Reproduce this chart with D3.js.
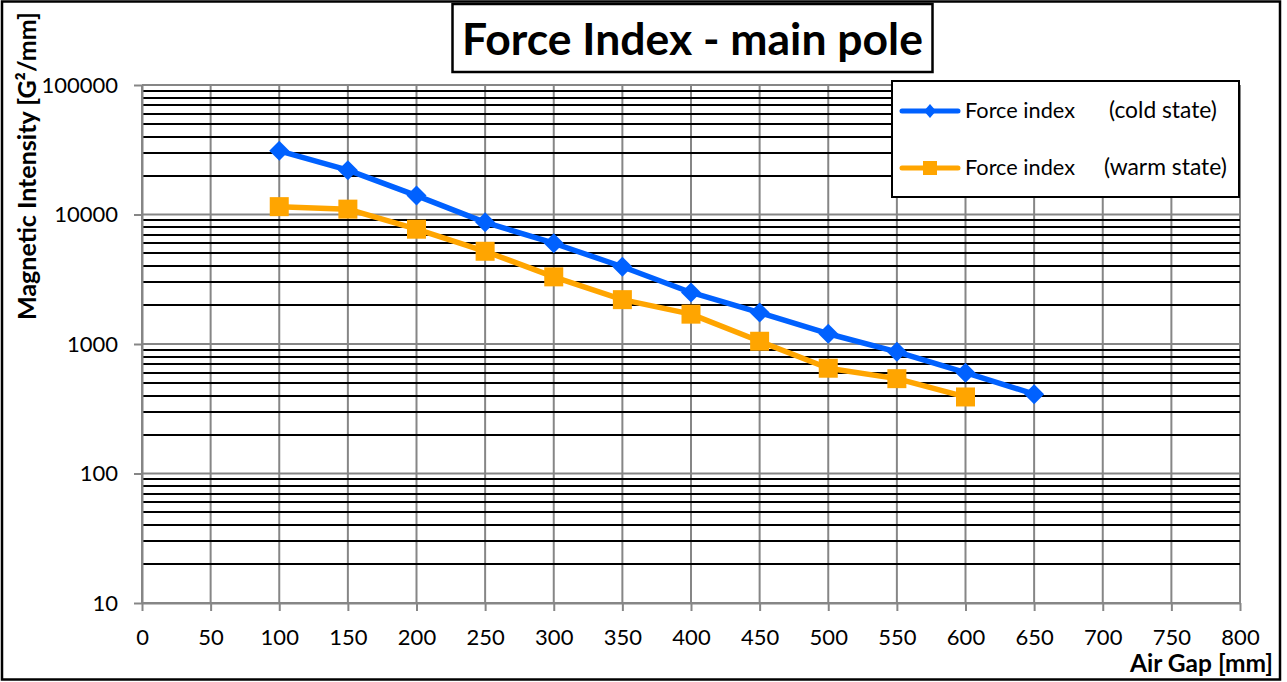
<!DOCTYPE html>
<html><head><meta charset="utf-8">
<script src="https://cdn.jsdelivr.net/npm/d3@7"></script>
<style>body{margin:0;background:#fff} svg{display:block} text{font-family:Lato,"Open Sans",sans-serif;fill:#000}</style>
</head><body><svg id="c" width="1287" height="682"></svg>
<script>
// ---- data ----
const coldGap = [100,150,200,250,300,350,400,450,500,550,600,650];
const coldState = [31000,22000,14000,8700,6000,3950,2500,1750,1200,870,600,410];
const warmGap = [100,150,200,250,300,350,400,450,500,550,600];
const warmState = [11500,11000,7700,5200,3300,2200,1700,1050,650,540,390];
const xTicks = [0,50,100,150,200,250,300,350,400,450,500,550,600,650,700,750,800];
const yTicks = [10,100,1000,10000,100000];
const titleText = "Force Index - main pole";
const yLabel = "Magnetic Intensity [G\u00B2/mm]";
const xLabel = "Air Gap [mm]";
const seriesNames = ["Force index", "Force index"];
const seriesStates = ["(cold state)", "(warm state)"];
const colors = ["#0061FF", "#FFA500"];

const svg = d3.select("#c");
const L=142, R=1240, T=85, B=603;
const x = d3.scaleLinear().domain([0,800]).range([L,R]);
const y = d3.scaleLog().domain([10,100000]).range([B,T]);

function fit(sel, target){
  const w = sel.node().getComputedTextLength();
  const fs = parseFloat(sel.attr("font-size"));
  sel.attr("font-size", fs*target/w);
}

// outer border
svg.append("rect").attr("x",2).attr("y",1.5).attr("width",1278).attr("height",678)
  .attr("fill","#fff").attr("stroke","#000").attr("stroke-width",2.5);

// vertical grid
svg.append("g").selectAll("line").data(xTicks).join("line")
  .attr("x1",d=>x(d)).attr("x2",d=>x(d)).attr("y1",T).attr("y2",B)
  .attr("stroke","#868686").attr("stroke-width",2);

// minor horizontal grid
const minor=[];
yTicks.slice(0,-1).forEach(d=>{for(let k=2;k<=9;k++) minor.push(d*k);});
svg.append("g").selectAll("line").data(minor).join("line")
  .attr("x1",L+1).attr("x2",R).attr("y1",d=>Math.round(y(d))).attr("y2",d=>Math.round(y(d)))
  .attr("stroke","#000").attr("stroke-width",2);
// major horizontal grid
svg.append("g").selectAll("line").data(yTicks).join("line")
  .attr("x1",L).attr("x2",R).attr("y1",d=>y(d)).attr("y2",d=>y(d))
  .attr("stroke","#868686").attr("stroke-width",2);

// axes
const ax = svg.append("g").attr("transform",`translate(0,${B})`)
  .call(d3.axisBottom(x).tickValues(xTicks).tickSizeInner(8).tickSizeOuter(0).tickPadding(18).tickFormat(d3.format("d")));
const ay = svg.append("g").attr("transform",`translate(${L},0)`)
  .call(d3.axisLeft(y).tickValues(yTicks).tickSizeInner(8).tickSizeOuter(0).tickPadding(16).tickFormat(d3.format("d")));
[ax,ay].forEach(a=>{
  a.select(".domain").attr("stroke","#868686").attr("stroke-width",2);
  a.selectAll(".tick line").attr("stroke","#868686").attr("stroke-width",2);
  a.selectAll(".tick text").attr("font-size",22).attr("fill","#000").style("font-family","Lato,'Open Sans',sans-serif");
});

// series
const line = d3.line().x(d=>x(d[0])).y(d=>y(d[1]));
const diamond = r=>`M0,${-r}L${r},0L0,${r}L${-r},0Z`;
const cold = coldGap.map((g,i)=>[g,coldState[i]]);
const warm = warmGap.map((g,i)=>[g,warmState[i]]);
svg.append("path").datum(cold).attr("d",line).attr("fill","none").attr("stroke",colors[0]).attr("stroke-width",5.5).attr("stroke-linejoin","round");
svg.append("g").selectAll("path").data(cold).join("path")
  .attr("transform",d=>`translate(${x(d[0])},${y(d[1])})`).attr("d",diamond(10)).attr("fill",colors[0]);
svg.append("path").datum(warm).attr("d",line).attr("fill","none").attr("stroke",colors[1]).attr("stroke-width",5.5).attr("stroke-linejoin","round");
svg.append("g").selectAll("rect").data(warm).join("rect")
  .attr("x",d=>x(d[0])-9.5).attr("y",d=>y(d[1])-9.5).attr("width",19).attr("height",19).attr("fill",colors[1]);

// title
svg.append("rect").attr("x",452.5).attr("y",4).attr("width",480).attr("height",68)
  .attr("fill","#fff").attr("stroke","#000").attr("stroke-width",2.5);
const tt = svg.append("text").attr("x",692.5).attr("y",55).attr("text-anchor","middle")
  .attr("font-weight","bold").attr("font-size",40).text(titleText);
fit(tt,461);

// axis labels
const yl = svg.append("text").attr("transform","translate(36,166) rotate(-90)").attr("text-anchor","middle")
  .attr("font-weight","bold").attr("font-size",20).text(yLabel);
fit(yl,308);
const xl = svg.append("text").attr("x",1273).attr("y",672).attr("text-anchor","end")
  .attr("font-weight","bold").attr("font-size",20).text(xLabel);
fit(xl,143);

// legend
svg.append("rect").attr("x",892).attr("y",81).attr("width",347).attr("height",116)
  .attr("fill","#fff").attr("stroke","#000").attr("stroke-width",2);
const ly=[111,168];
[0,1].forEach(i=>{
  svg.append("line").attr("x1",902).attr("x2",958).attr("y1",ly[i]).attr("y2",ly[i])
    .attr("stroke",colors[i]).attr("stroke-width",5).attr("stroke-linecap","round");
  if(i===0) svg.append("path").attr("transform",`translate(930,${ly[i]})`).attr("d","M0,-7L6,0L0,7L-6,0Z").attr("fill",colors[0]);
  else svg.append("rect").attr("x",923).attr("y",ly[i]-7).attr("width",14).attr("height",14).attr("fill",colors[1]);
  const t1 = svg.append("text").attr("x",965).attr("y",ly[i]+7).attr("font-size",19).text(seriesNames[i]);
  fit(t1,110);
  const t2 = svg.append("text").attr("x",i===0?1109:1104).attr("y",ly[i]+7).attr("font-size",19).text(seriesStates[i]);
  fit(t2,i===0?108:123);
});
</script></body></html>
